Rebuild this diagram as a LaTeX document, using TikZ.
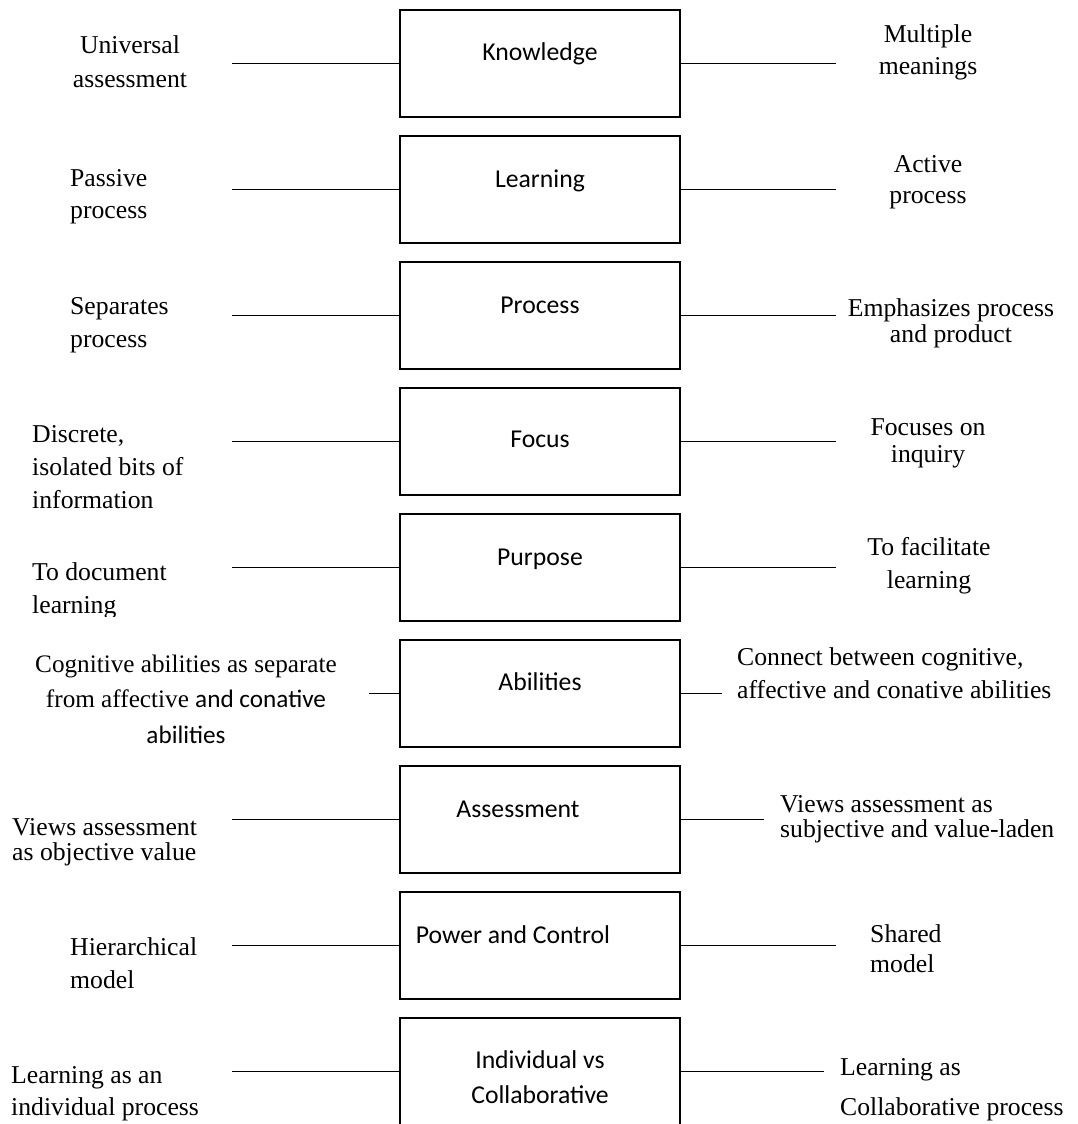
\documentclass[tikz,border=0pt]{standalone}
\usepackage{fontspec}
\newfontfamily\tnrfam{Liberation Serif}
\newfontfamily\calfam{Carlito}
\begin{document}
\begin{tikzpicture}[x=1pt,y=-1pt,
  box/.style={draw, line width=1.4pt, minimum width=280pt, minimum height=107pt, inner sep=0pt, outer sep=0pt},
  conn/.style={line width=1.5pt},
  tnr/.style={font=\tnrfam\fontsize{25.7}{33}\selectfont, inner sep=0pt},
  cal/.style={font=\calfam\fontsize{25.7}{33}\selectfont, inner sep=0pt},
]
\useasboundingbox (0,0) rectangle (1078,1124);

% boxes
\node[box] (b1) at (540,63.5) {};
\node[box] (b2) at (540,189.5) {};
\node[box] (b3) at (540,315.5) {};
\node[box] (b4) at (540,441.5) {};
\node[box] (b5) at (540,567.5) {};
\node[box] (b6) at (540,693.5) {};
\node[box] (b7) at (540,819.5) {};
\node[box] (b8) at (540,945.5) {};
\node[box, minimum height=120pt] (b9) at (540,1078) {};

% box labels
\node[cal, anchor=base] (t1) at (540,61) {Knowledge};
\node[cal, anchor=base] (t2) at (540,187) {Learning};
\node[cal, anchor=base] (t3) at (540,313) {Process};
\node[cal, anchor=base] (t4) at (540,447) {Focus};
\node[cal, anchor=base] (t5) at (540,565) {Purpose};
\node[cal, anchor=base] (t6) at (540,690) {Abilities};
\node[cal, anchor=base] (t7) at (518,817) {Assessment};
\node[cal, anchor=base] (t8) at (513,943) {Power and Control};
\node[cal, anchor=base, font=\calfam\fontsize{25.7}{35}\selectfont] (t9) at (540,1068)
  {\begin{tabular}[t]{@{}c@{}}Individual vs\\Collaborative\end{tabular}};

% free ends of connectors
\coordinate (lc1) at (232,63.5);   \coordinate (rc1) at (836,63.5);
\coordinate (lc2) at (232,189.5);  \coordinate (rc2) at (836,189.5);
\coordinate (lc3) at (232,315.5);  \coordinate (rc3) at (836,315.5);
\coordinate (lc4) at (232,441.5);  \coordinate (rc4) at (836,441.5);
\coordinate (lc5) at (232,567.5);  \coordinate (rc5) at (836,567.5);
\coordinate (lc6) at (369,693.5);  \coordinate (rc6) at (722,693.5);
\coordinate (lc7) at (232,819.5);  \coordinate (rc7) at (764,819.5);
\coordinate (lc8) at (232,945.5);  \coordinate (rc8) at (836,945.5);
\coordinate (lc9) at (232,1071.5); \coordinate (rc9) at (824,1071.5);

\foreach \i in {1,...,8}{
  \draw[conn] (b\i.west) -- (lc\i);
  \draw[conn] (b\i.east) -- (rc\i);
}
\draw[conn] (lc9 -| b9.west) -- (lc9);
\draw[conn] (rc9 -| b9.east) -- (rc9);

% left texts
\node[tnr, anchor=base] (l1) at (130,54)
  {\begin{tabular}[t]{@{}c@{}}Universal\\assessment\end{tabular}};
\node[tnr, anchor=base west, font=\tnrfam\fontsize{25.7}{32}\selectfont] (l2) at (70,186)
  {\begin{tabular}[t]{@{}l@{}}Passive\\process\end{tabular}};
\node[tnr, anchor=base west] (l3) at (70,314)
  {\begin{tabular}[t]{@{}l@{}}Separates\\process\end{tabular}};
\node[tnr, anchor=base west] (l4) at (32,442)
  {\begin{tabular}[t]{@{}l@{}}Discrete,\\isolated bits of\\information\end{tabular}};
\begin{scope}
  \clip (0,500) rectangle (390,616);
  \node[tnr, anchor=base west] (l5) at (32,580)
    {\begin{tabular}[t]{@{}l@{}}To document\\learning\end{tabular}};
\end{scope}
\node[tnr, anchor=base, font=\tnrfam\fontsize{25.2}{35.5}\selectfont] (l6) at (186,672)
  {\begin{tabular}[t]{@{}c@{}}Cognitive abilities as separate\\from affective {\calfam and conative}\\{\calfam abilities}\end{tabular}};
\node[tnr, anchor=base west, font=\tnrfam\fontsize{25.7}{25}\selectfont] (l7) at (12,835)
  {\begin{tabular}[t]{@{}l@{}}Views assessment\\as objective value\end{tabular}};
\node[tnr, anchor=base west] (l8) at (70,955)
  {\begin{tabular}[t]{@{}l@{}}Hierarchical\\model\end{tabular}};
\node[tnr, anchor=base west, font=\tnrfam\fontsize{25.7}{32}\selectfont] (l9) at (11,1083)
  {\begin{tabular}[t]{@{}l@{}}Learning as an\\individual process\end{tabular}};

% right texts
\node[tnr, anchor=base, font=\tnrfam\fontsize{25.7}{32}\selectfont] (r1) at (928,43)
  {\begin{tabular}[t]{@{}c@{}}Multiple\\meanings\end{tabular}};
\node[tnr, anchor=base, font=\tnrfam\fontsize{25.7}{31}\selectfont] (r2) at (928,172)
  {\begin{tabular}[t]{@{}c@{}}Active\\process\end{tabular}};
\node[tnr, anchor=base, font=\tnrfam\fontsize{25.7}{26}\selectfont] (r3) at (951,316)
  {\begin{tabular}[t]{@{}c@{}}Emphasizes process\\and product\end{tabular}};
\node[tnr, anchor=base, font=\tnrfam\fontsize{25.7}{27}\selectfont] (r4) at (928,435)
  {\begin{tabular}[t]{@{}c@{}}Focuses on\\inquiry\end{tabular}};
\node[tnr, anchor=base] (r5) at (929,555)
  {\begin{tabular}[t]{@{}c@{}}To facilitate\\learning\end{tabular}};
\node[tnr, anchor=base west] (r6) at (737,665)
  {\begin{tabular}[t]{@{}l@{}}Connect between cognitive,\\affective and conative abilities\end{tabular}};
\node[tnr, anchor=base west, font=\tnrfam\fontsize{25.7}{25}\selectfont] (r7) at (780,812)
  {\begin{tabular}[t]{@{}l@{}}Views assessment as\\subjective and value-laden\end{tabular}};
\node[tnr, anchor=base west, font=\tnrfam\fontsize{25.7}{30}\selectfont] (r8) at (870,942)
  {\begin{tabular}[t]{@{}l@{}}Shared\\model\end{tabular}};
\node[tnr, anchor=base west, font=\tnrfam\fontsize{25.7}{40}\selectfont] (r9) at (840,1075)
  {\begin{tabular}[t]{@{}l@{}}Learning as\\Collaborative process\end{tabular}};
\end{tikzpicture}
\end{document}
